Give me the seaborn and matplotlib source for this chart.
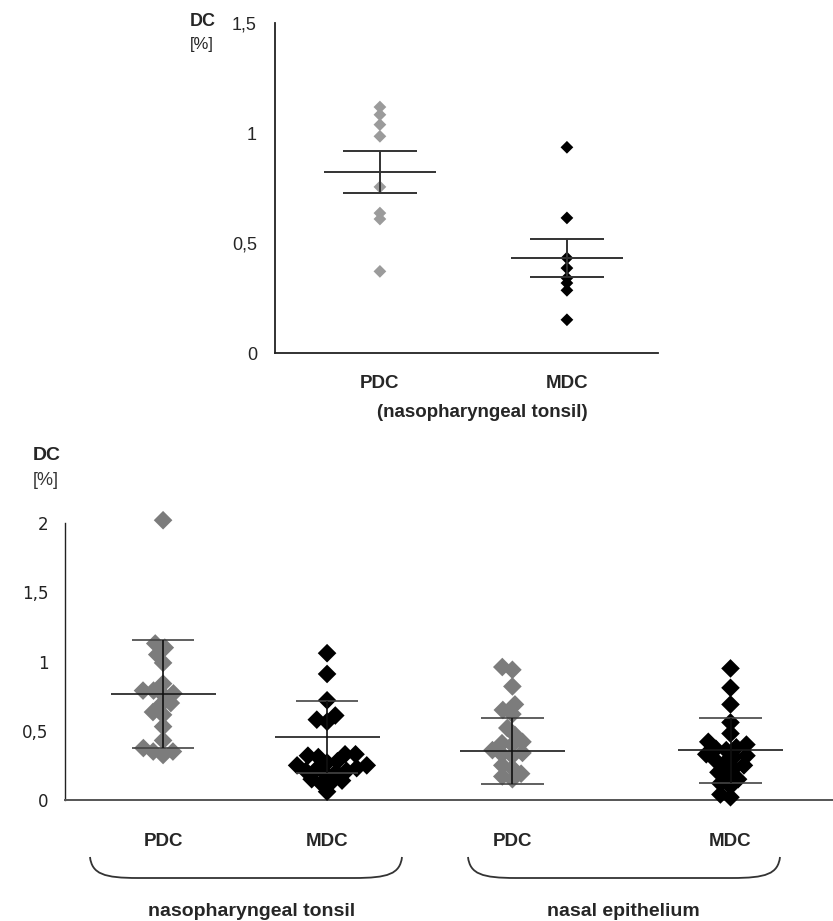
import numpy as np
import pandas as pd
import matplotlib.pyplot as plt
from matplotlib.path import Path
from matplotlib.patches import PathPatch
import seaborn as sns

# top panel: nasopharyngeal tonsil, mean +/- SEM
top_cells = ["PDC", "MDC"]
top_pdc = [1.118, 1.083, 1.038, 0.985, 0.755, 0.636, 0.609, 0.371]
top_mdc = [0.935, 0.614, 0.432, 0.386, 0.341, 0.318, 0.285, 0.151]

# bottom panel: four groups, mean +/- SD
bot_groups = ["nt PDC", "nt MDC", "ne PDC", "ne MDC"]
bot_labels = ["PDC", "MDC", "PDC", "MDC"]
nt_pdc = [2.02, 1.13, 1.10, 1.05, 0.99, 0.84, 0.79, 0.79, 0.77, 0.76,
          0.70, 0.685, 0.635, 0.615, 0.53, 0.43, 0.375, 0.35, 0.35, 0.325]
nt_mdc = [1.06, 0.91, 0.72, 0.61, 0.58, 0.565, 0.33, 0.33, 0.32, 0.31,
          0.28, 0.27, 0.25, 0.25, 0.23, 0.22, 0.21, 0.21, 0.20, 0.19,
          0.15, 0.14, 0.13, 0.12, 0.06]
ne_pdc = [0.96, 0.94, 0.82, 0.69, 0.65, 0.62, 0.52, 0.47, 0.42, 0.41,
          0.40, 0.36, 0.34, 0.33, 0.32, 0.25, 0.23, 0.19, 0.17, 0.15]
ne_mdc = [0.95, 0.81, 0.69, 0.56, 0.48, 0.42, 0.40, 0.38, 0.37, 0.36,
          0.33, 0.32, 0.31, 0.29, 0.27, 0.25, 0.23, 0.20, 0.17, 0.15,
          0.12, 0.10, 0.04, 0.02]
bot_mean = [0.765, 0.455, 0.355, 0.36]
bot_sd = [0.387, 0.26, 0.24, 0.235]

# layout
W, H = 833, 921
bot_pos = {"nt PDC": 0.0, "nt MDC": 1.0, "ne PDC": 2.13, "ne MDC": 3.46}
grey_top = "#9b9b9b"
grey_bot = "#7c7c7c"

sns.set_style("white")
plt.rcParams["font.family"] = ["Liberation Sans", "DejaVu Sans"]

fig = plt.figure(figsize=(W / 100, H / 100), dpi=100)


def px_axes(left, top, right, bottom):
    return fig.add_axes([left / W, 1 - bottom / H, (right - left) / W, (bottom - top) / H])


# ---------- top panel ----------
top_df = pd.DataFrame({
    "cell": ["PDC"] * len(top_pdc) + ["MDC"] * len(top_mdc),
    "dc": top_pdc + top_mdc,
})
ax1 = px_axes(275, 23, 658, 353)
sns.stripplot(data=top_df, x="cell", y="dc", hue="cell", order=top_cells,
              palette={"PDC": grey_top, "MDC": "black"}, marker="D",
              jitter=False, size=6.5, linewidth=0, legend=False, ax=ax1)

stats = top_df.groupby("cell")["dc"].agg(["mean", "sem"]).reindex(top_cells)
for i, (m, e) in enumerate(zip(stats["mean"], stats["sem"])):
    ax1.hlines(m, i - 0.30, i + 0.30, color="#333333", lw=1.4, zorder=3)
    ax1.hlines([m - e, m + e], i - 0.20, i + 0.20, color="#333333", lw=1.4, zorder=3)
    ax1.vlines(i, m - e, m + e, color="#333333", lw=1.4, zorder=3)

ax1.set_xlim(-0.561, 1.487)
ax1.set_ylim(0, 1.5)
ax1.set_yticks([0, 0.5, 1, 1.5])
ax1.set_yticklabels(["0", "0,5", "1", "1,5"], fontsize=13)
ax1.set_xticks([0, 1])
ax1.set_xticklabels(top_cells, fontsize=13.5, fontweight="bold")
ax1.set_xticks([-0.561, 1.487], minor=True)
ax1.tick_params(axis="x", which="major", length=0, pad=16)
ax1.tick_params(axis="x", which="minor", length=5, width=1.2, color="#222222", direction="out")
ax1.tick_params(axis="y", length=5, width=1.2, color="#222222", direction="out", pad=8)
ax1.set_xlabel("")
ax1.set_ylabel("")
sns.despine(ax=ax1)
for s in ["left", "bottom"]:
    ax1.spines[s].set_color("#222222")
    ax1.spines[s].set_linewidth(1.3)

fig.text(190 / W, 1 - 22 / H, "DC", fontsize=13, fontweight="bold", va="center", ha="left")
fig.text(190 / W, 1 - 45 / H, "[%]", fontsize=12, va="center", ha="left")
fig.text(482 / W, 1 - 412 / H, "(nasopharyngeal tonsil)", fontsize=13.5,
         fontweight="bold", ha="center", va="center")

# ---------- bottom panel ----------
bot_vals = [nt_pdc, nt_mdc, ne_pdc, ne_mdc]
bot_df = pd.DataFrame({
    "group": np.repeat(bot_groups, [len(v) for v in bot_vals]),
    "dc": np.concatenate(bot_vals),
})
bot_df["cell"] = bot_df["group"].str.split(" ").str[1]
bot_df["pos"] = bot_df["group"].map(bot_pos)

ax2 = px_axes(65, 523, 833, 800)
sns.swarmplot(data=bot_df, x="pos", y="dc", hue="cell", native_scale=True,
              palette={"PDC": grey_bot, "MDC": "black"}, marker="D",
              size=7.2, linewidth=0, legend=False, ax=ax2)
swarms = list(ax2.collections)

for g, m, sd in zip(bot_groups, bot_mean, bot_sd):
    x = bot_pos[g]
    ax2.hlines(m, x - 0.32, x + 0.32, color="#1a1a1a", lw=1.2, zorder=3)
    ax2.hlines([m - sd, m + sd], x - 0.19, x + 0.19, color="#444444", lw=1.2, zorder=3)
    ax2.vlines(x, m - sd, m + sd, color="#111111", lw=1.2, zorder=3)

ax2.set_xlim(-0.598, 4.085)
ax2.set_ylim(0, 2)
ax2.set_yticks([0, 0.5, 1, 1.5, 2])
ax2.set_yticklabels(["0", "0,5", "1", "1,5", "2"], fontsize=12, family="DejaVu Sans",
                    color="#222222")
ax2.set_xticks([bot_pos[g] for g in bot_groups])
ax2.set_xticklabels(bot_labels, fontsize=13.5, fontweight="bold")
ax2.tick_params(axis="x", length=0, pad=24)
ax2.tick_params(axis="y", length=8, width=1, color="#333333", direction="out", pad=4)
ax2.set_xlabel("")
ax2.set_ylabel("")
sns.despine(ax=ax2)
ax2.spines["left"].set_color("#222222")
ax2.spines["left"].set_linewidth(1.0)
ax2.spines["bottom"].set_color("#555555")
ax2.spines["bottom"].set_linewidth(1.4)

fig.text(33 / W, 1 - 455 / H, "DC", fontsize=14, fontweight="bold", va="center", ha="left")
fig.text(33 / W, 1 - 480 / H, "[%]", fontsize=13, va="center", ha="left",
         color="#333333")


def brace(x0, x1, ytop, ybot):
    pts = [(x0, ytop), (x0 + 2, ybot - 4), (x0 + 14, ybot), (x0 + 48, ybot),
           (x1 - 48, ybot),
           (x1 - 14, ybot), (x1 - 2, ybot - 4), (x1, ytop)]
    codes = [Path.MOVETO, Path.CURVE4, Path.CURVE4, Path.CURVE4,
             Path.LINETO,
             Path.CURVE4, Path.CURVE4, Path.CURVE4]
    verts = [(x / W, 1 - y / H) for x, y in pts]
    fig.patches.append(PathPatch(Path(verts, codes), transform=fig.transFigure,
                                 fill=False, lw=1.3, ec="#333333"))


brace(90, 402, 857, 878)
brace(468, 780, 857, 878)
fig.text(252 / W, 1 - 911 / H, "nasopharyngeal tonsil", fontsize=14,
         fontweight="bold", ha="center", va="center")
fig.text(623 / W, 1 - 911 / H, "nasal epithelium", fontsize=14,
         fontweight="bold", ha="center", va="center")

# seaborn lays the swarm out at draw time; fix it with the small markers,
# then draw the diamonds larger so they overlap like the original
fig.canvas.draw()
for coll in swarms:
    coll.__dict__.pop("draw", None)
    coll.set_sizes([90])
    coll.set_clip_on(False)

fig.savefig("out.png", dpi=100)
